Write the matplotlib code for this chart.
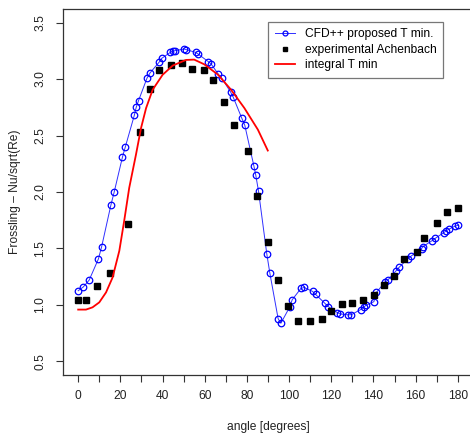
import matplotlib
matplotlib.use("Agg")
import matplotlib.pyplot as plt
import numpy as np

# CFD++ proposed T min. (angle [deg], Nu/sqrt(Re))
cfd_angle = [0.0, 2.4, 5.2, 9.6, 11.1, 15.5, 17.1, 21.0, 22.3, 26.6, 27.5, 28.6,
             32.6, 34.1, 38.5, 39.6, 43.7, 44.8, 45.9, 50.2, 51.3, 55.7, 56.8,
             61.7, 63.0, 66.5, 68.1, 72.3, 73.5, 77.6, 79.0, 83.3, 84.2, 85.5,
             89.4, 90.9, 94.8, 96.1, 100.2, 101.5, 105.6, 107.2, 111.1, 112.6,
             117.0, 118.6, 122.9, 124.1, 128.1, 129.5, 133.9, 135.4, 136.3,
             140.2, 141.4, 145.3, 146.8, 150.7, 152.1, 156.4, 157.8, 162.8,
             163.5, 167.6, 169.4, 173.3, 174.6, 175.7, 178.6, 180.0]
cfd_value = [1.126, 1.159, 1.220, 1.408, 1.514, 1.884, 2.002, 2.310, 2.396, 2.678,
             2.749, 2.808, 3.007, 3.055, 3.152, 3.183, 3.236, 3.249, 3.251, 3.266,
             3.260, 3.236, 3.222, 3.154, 3.134, 3.042, 3.007, 2.884, 2.840, 2.652,
             2.590, 2.231, 2.149, 2.008, 1.455, 1.279, 0.879, 0.838, 0.979, 1.047,
             1.146, 1.155, 1.120, 1.093, 1.014, 0.985, 0.932, 0.921, 0.912, 0.914,
             0.959, 0.979, 0.996, 1.029, 1.111, 1.199, 1.220, 1.302, 1.332, 1.411,
             1.432, 1.499, 1.517, 1.567, 1.591, 1.640, 1.658, 1.670, 1.697, 1.705]

# experimental Achenbach
exp_angle = [0.0, 3.7, 9.0, 14.9, 23.7, 29.3, 33.9, 38.3, 44.2, 49.1, 53.8, 59.8,
             63.8, 69.0, 73.9, 80.4, 84.9, 90.0, 94.7, 99.7, 104.3, 110.0, 115.4,
             119.8, 125.0, 130.0, 135.0, 140.1, 144.9, 149.7, 154.4, 160.7, 164.2,
             169.9, 175.1, 179.9]
exp_value = [1.047, 1.047, 1.164, 1.285, 1.714, 2.531, 2.910, 3.084, 3.125, 3.139,
             3.093, 3.081, 2.993, 2.795, 2.593, 2.363, 1.964, 1.554, 1.217, 0.994,
             0.855, 0.855, 0.879, 0.947, 1.005, 1.014, 1.047, 1.085, 1.176, 1.256,
             1.406, 1.467, 1.594, 1.723, 1.825, 1.855]

# integral T min
int_angle = [0.0, 3.7, 6.8, 10.0, 13.2, 16.3, 19.5, 21.8, 24.2, 27.4, 29.8, 32.2,
             35.3, 40.0, 44.8, 51.1, 55.0, 59.8, 66.2, 72.5, 78.8, 85.2, 89.9]
int_value = [0.959, 0.959, 0.979, 1.023, 1.111, 1.243, 1.479, 1.743, 2.037, 2.331,
             2.566, 2.743, 2.905, 3.037, 3.119, 3.169, 3.172, 3.130, 3.040, 2.905,
             2.743, 2.552, 2.367]

x_major = list(range(0, 181, 20))
x_minor = list(range(10, 180, 20))
y_ticks = [0.5, 1.0, 1.5, 2.0, 2.5, 3.0, 3.5]

plt.rcParams['font.family'] = ['Liberation Sans', 'DejaVu Sans']
FS = 8.64

W, H = 470, 433
fig = plt.figure(figsize=(W / 100, H / 100), dpi=100)
fig.patch.set_facecolor('white')
ax = fig.add_axes([63 / W, 1 - 375 / H, (473 - 63) / W, (375 - 9) / H])

ax.plot(cfd_angle, cfd_value, color='#2f2fff', lw=0.7, marker='o', ms=4.7,
        mfc='none', mec='blue', mew=0.9, label='CFD++ proposed T min.')
ax.plot(exp_angle, exp_value, ls='none', marker='s', ms=4.2, color='black',
        label='experimental Achenbach')
ax.plot(int_angle, int_value, color='red', lw=1.3, label='integral T min')

ax.set_xlim(-7.2, 187.2)
ax.set_ylim(0.38, 3.62)
ax.set_xticks(x_major)
ax.set_xticks(x_minor, minor=True)
ax.set_xticklabels([str(v) for v in x_major], fontsize=FS)
ax.set_yticks(y_ticks)
ax.set_yticklabels([f"{v:.1f}" for v in y_ticks], fontsize=FS, rotation=90,
                   va='center')
ax.tick_params(axis='both', which='both', direction='out', length=5, width=0.8,
               color='#333333', labelcolor='#222222')
ax.tick_params(axis='x', which='both', pad=6)
ax.tick_params(axis='y', which='both', pad=7)
for s in ax.spines.values():
    s.set_linewidth(0.9)
    s.set_color('#333333')

fig.text(268 / W, 1 - 427 / H, 'angle [degrees]', ha='center', va='center',
         fontsize=FS, color='#222222')
fig.text(15 / W, 1 - 192 / H, 'Frossling \u2013 Nu/sqrt(Re)', ha='center',
         va='center', rotation=90, fontsize=FS, color='#222222')

leg = ax.legend(loc='upper left', bbox_to_anchor=((268.3 - 63) / 410, (375 - 21.7) / 366),
                borderaxespad=0, fontsize=FS, fancybox=False, frameon=True,
                edgecolor='#777777', framealpha=1, handlelength=1.7,
                handletextpad=0.8, labelspacing=0.3, borderpad=0.55,
                markerscale=0.75)
leg.get_frame().set_linewidth(0.9)

fig.savefig('out.png', dpi=100)
